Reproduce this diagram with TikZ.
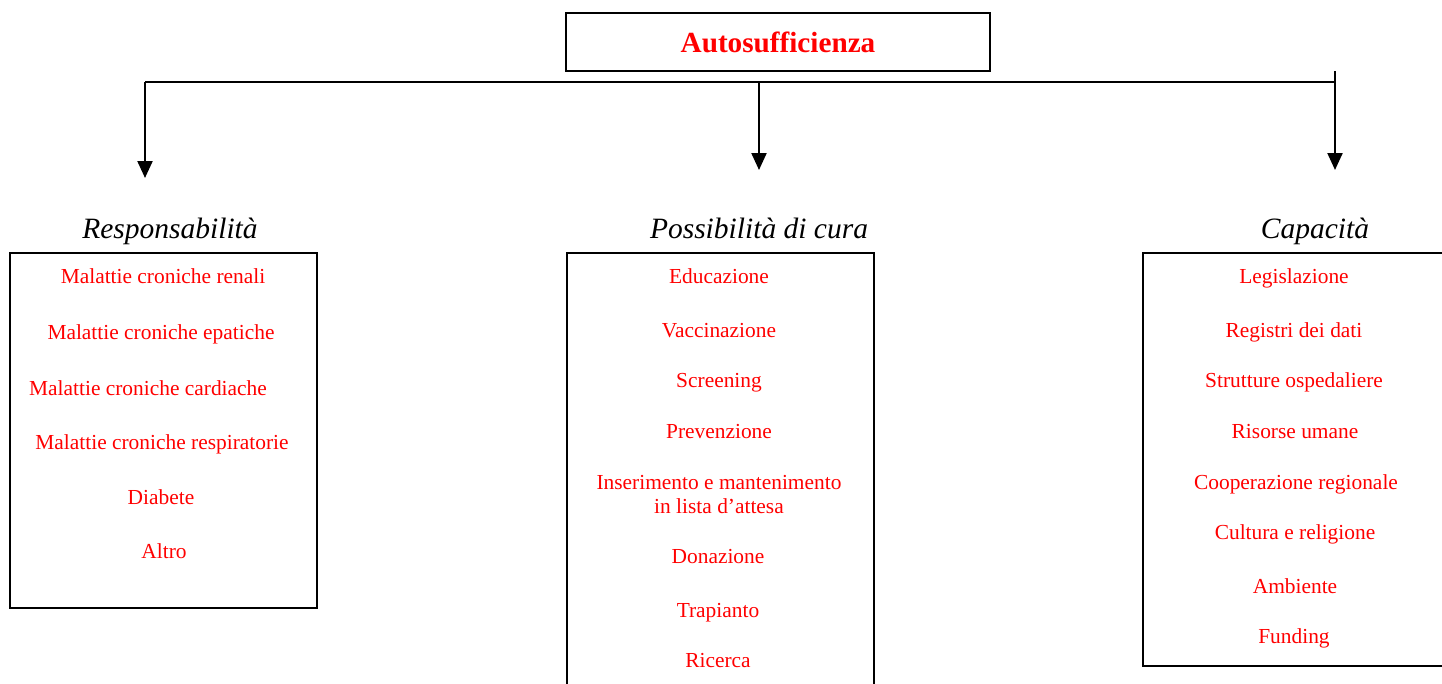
\documentclass[tikz,border=0pt]{standalone}
\usepackage{fontspec}
\setmainfont{Liberation Serif}
\usetikzlibrary{arrows.meta}
\definecolor{txtred}{RGB}{255,0,0}
\begin{document}
\begin{tikzpicture}[x=1pt,y=-1pt,
  item/.style={text=txtred, font=\fontsize{21.4}{25}\selectfont, anchor=base, inner sep=0pt, align=center},
  head/.style={font=\fontsize{29.5}{34}\selectfont\itshape, anchor=base, inner sep=0pt},
  box/.style={draw, line width=2.2pt, inner sep=0pt, outer sep=0pt},
  arr/.style={line width=2.2pt, -{Triangle[width=15pt,length=17pt]}},
  conn/.style={line width=2.2pt},
]
\useasboundingbox (0,0) rectangle (1442,683);
\clip (0,0) rectangle (1442,683);
% title
\node[box, minimum width=424pt, minimum height=58pt, text=txtred,
  font=\fontsize{29.2}{33}\selectfont\bfseries] (title) at (778,42) {Autosufficienza};
% connectors
\coordinate (jl) at (145,82);
\coordinate (jm) at (759,82);
\coordinate (jr) at (1335,82);
\coordinate (jrtop) at (1335,71);
\coordinate (tl) at (145,178);
\coordinate (tm) at (759,170);
\coordinate (tr) at (1335,170);
\draw[conn] (jl) -- (jr);
\draw[conn] (jrtop) -- (jr);
\draw[arr] (jl) -- (tl);
\draw[arr] (jm) -- (tm);
\draw[arr] (jr) -- (tr);
% headings
\node[head] (h1) at (170,238) {Responsabilità};
\node[head] (h2) at (759,238) {Possibilità di cura};
\node[head] (h3) at (1315,238) {Capacità};
% boxes
\node[box, minimum width=307pt, minimum height=355pt] (b1) at (163.5,430.5) {};
\node[box, minimum width=307pt, minimum height=467pt] (b2) at (720.5,486.5) {};
\node[box, minimum width=327pt, minimum height=413pt] (b3) at (1306.5,459.5) {};
% left items
\node[item] (l1) at (163,283) {Malattie croniche renali};
\node[item] (l2) at (161,339) {Malattie croniche epatiche};
\node[item] (l3) at (148,395) {Malattie croniche cardiache};
\node[item] (l4) at (162,449) {Malattie croniche respiratorie};
\node[item] (l5) at (161,504) {Diabete};
\node[item] (l6) at (164,558) {Altro};
% middle items
\node[item] (m1) at (719,283) {Educazione};
\node[item] (m2) at (719,337) {Vaccinazione};
\node[item] (m3) at (719,387) {Screening};
\node[item] (m4) at (719,438) {Prevenzione};
\node[item] (m5) at (719,489) {Inserimento e mantenimento};
\node[item] (m5b) at (719,513) {in lista d’attesa};
\node[item] (m6) at (718,563) {Donazione};
\node[item] (m7) at (718,617) {Trapianto};
\node[item] (m8) at (718,667) {Ricerca};
% right items
\node[item] (r1) at (1294,283) {Legislazione};
\node[item] (r2) at (1294,337) {Registri dei dati};
\node[item] (r3) at (1294,387) {Strutture ospedaliere};
\node[item] (r4) at (1295,438) {Risorse umane};
\node[item] (r5) at (1296,489) {Cooperazione regionale};
\node[item] (r6) at (1295,539) {Cultura e religione};
\node[item] (r7) at (1295,593) {Ambiente};
\node[item] (r8) at (1294,643) {Funding};
\end{tikzpicture}
\end{document}
